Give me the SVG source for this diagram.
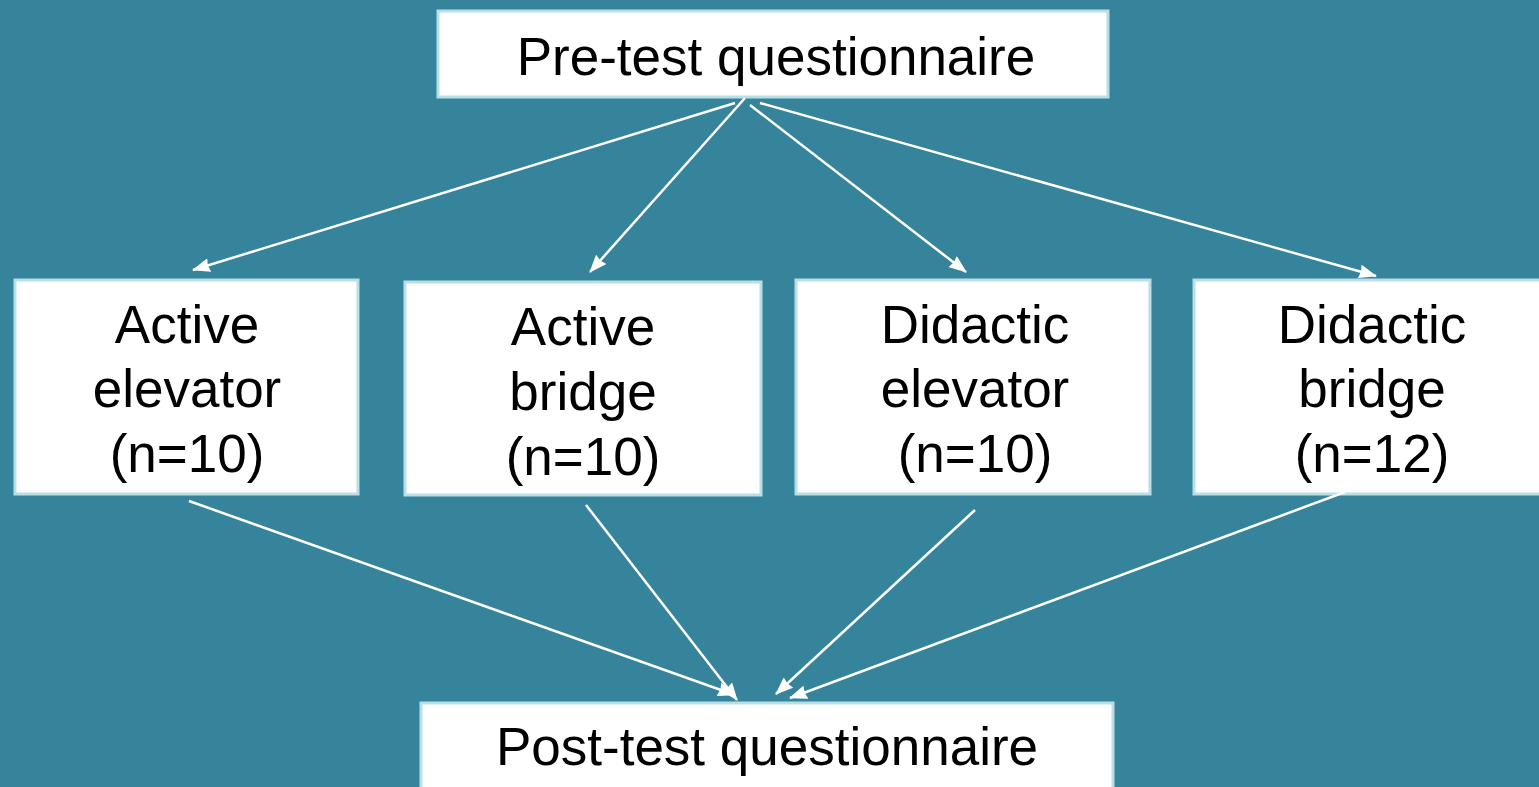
<svg xmlns="http://www.w3.org/2000/svg" width="1539" height="787" viewBox="0 0 1539 787">
<style>
.box{fill:#ffffff;stroke:#b9dfe6;stroke-width:3}
.t{font-family:"Liberation Sans",Arial,sans-serif;font-size:53px;fill:#000;text-anchor:middle}
.c{stroke:#ffffff;stroke-width:2.5;fill:none;marker-end:url(#ah)}
</style>
<defs>
<marker id="ah" viewBox="0 0 18 14" refX="17" refY="7" markerWidth="18" markerHeight="14" markerUnits="userSpaceOnUse" orient="auto">
<path d="M0,0 L18,7 L0,14 L1.5,7 Z" fill="#ffffff"/>
</marker>
</defs>
<rect width="1539" height="787" fill="#36849c"/>
<g id="pre">
<rect class="box" x="438" y="11" width="670" height="86"/>
<text class="t" x="776" y="75">Pre-test questionnaire</text>
</g>
<g id="active-elevator">
<rect class="box" x="15" y="280" width="343" height="214"/>
<text class="t" x="187" y="343">Active</text>
<text class="t" x="187" y="407">elevator</text>
<text class="t" x="187" y="472">(n=10)</text>
</g>
<g id="active-bridge">
<rect class="box" x="405" y="282" width="356" height="213"/>
<text class="t" x="583" y="345">Active</text>
<text class="t" x="583" y="410">bridge</text>
<text class="t" x="583" y="475">(n=10)</text>
</g>
<g id="didactic-elevator">
<rect class="box" x="796" y="280" width="354" height="214"/>
<text class="t" x="975" y="343">Didactic</text>
<text class="t" x="975" y="407">elevator</text>
<text class="t" x="975" y="472">(n=10)</text>
</g>
<g id="didactic-bridge">
<rect class="box" x="1194" y="280" width="350" height="214"/>
<text class="t" x="1372" y="343">Didactic</text>
<text class="t" x="1372" y="407">bridge</text>
<text class="t" x="1372" y="472">(n=12)</text>
</g>
<g id="post">
<rect class="box" x="421" y="703" width="692" height="90"/>
<text class="t" x="767" y="765">Post-test questionnaire</text>
</g>
<g id="connectors">
<line class="c" x1="735" y1="103" x2="193" y2="270"/>
<line class="c" x1="745" y1="98" x2="590" y2="272"/>
<line class="c" x1="750" y1="105" x2="966" y2="272"/>
<line class="c" x1="760" y1="103" x2="1376" y2="276"/>
<line class="c" x1="189" y1="501" x2="735" y2="695"/>
<line class="c" x1="586" y1="505" x2="737" y2="700"/>
<line class="c" x1="975" y1="510" x2="776" y2="694"/>
<line class="c" x1="1345" y1="492" x2="790" y2="698"/>
</g>
</svg>
